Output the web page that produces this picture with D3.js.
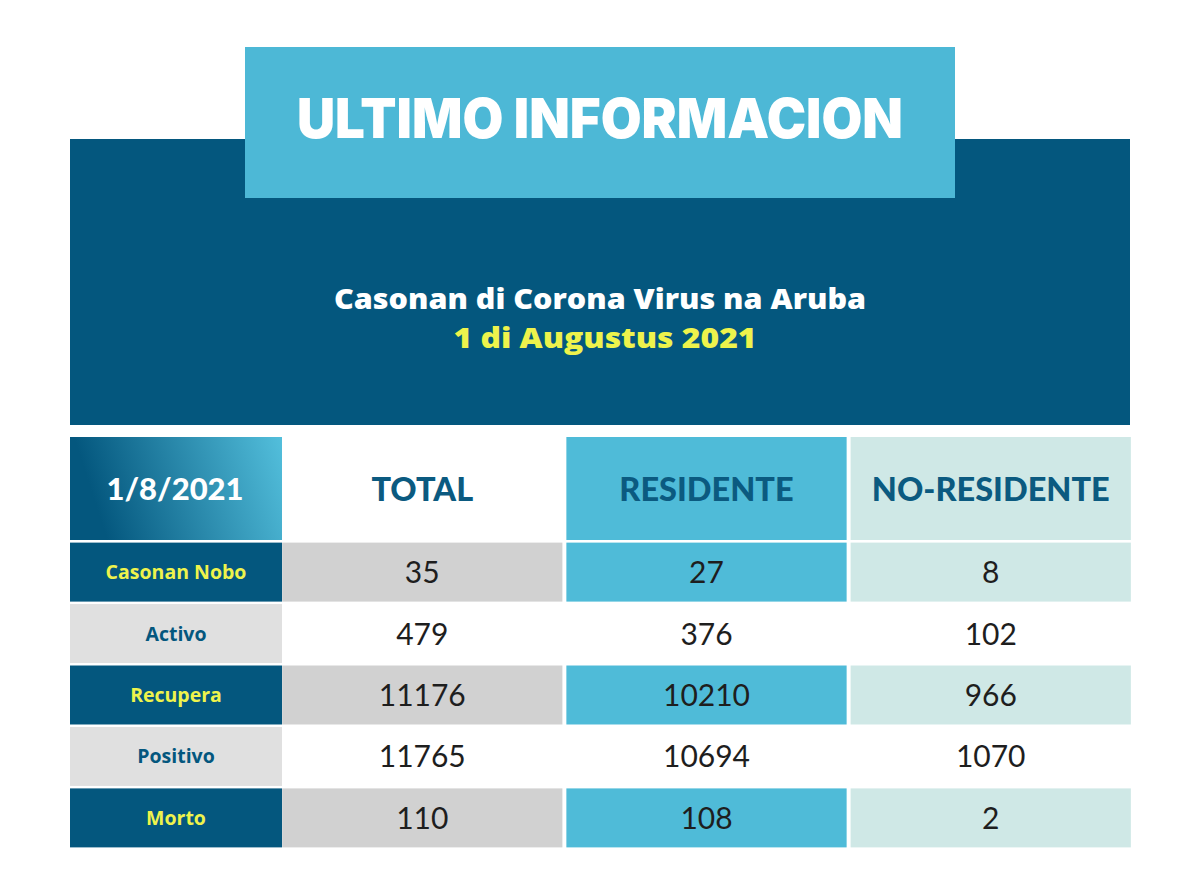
<!DOCTYPE html>
<html>
<head>
<meta charset="utf-8">
<script src="https://cdn.jsdelivr.net/npm/d3@7"></script>
<style>
  body { margin: 0; background: #ffffff; }
  svg { display: block; }
</style>
</head>
<body>
<script>
// data
const title = "ULTIMO INFORMACION";
const subtitle = "Casonan di Corona Virus na Aruba";
const dateLine = "1 di Augustus 2021";
const dateLabel = "1/8/2021";
const columns = ["TOTAL", "RESIDENTE", "NO-RESIDENTE"];
const categories = ["Casonan Nobo", "Activo", "Recupera", "Positivo", "Morto"];
const total = [35, 479, 11176, 11765, 110];
const residente = [27, 376, 10210, 10694, 108];
const noResidente = [8, 102, 966, 1070, 2];

const series = [total, residente, noResidente];

// colours
const darkBlue = "#04577e";
const lightBlue = "#4fbbd8";
const paleGreen = "#cfe8e6";
const yellow = "#eef34c";
const headText = "#0b5a80";

const width = 1200, height = 892;

const svg = d3.select("body").append("svg")
    .attr("width", width)
    .attr("height", height);

const defs = svg.append("defs");
const grad = defs.append("linearGradient")
    .attr("id", "dateGrad")
    .attr("x1", "5%").attr("x2", "100%")
    .attr("y1", "20%").attr("y2", "5%");
grad.append("stop").attr("offset", "0%").attr("stop-color", darkBlue);
grad.append("stop").attr("offset", "100%").attr("stop-color", "#52bedb");

// dark panel + title box
svg.append("rect")
    .attr("x", 70).attr("y", 139)
    .attr("width", 1060).attr("height", 286)
    .attr("fill", darkBlue);

svg.append("rect")
    .attr("x", 245).attr("y", 47)
    .attr("width", 710).attr("height", 151)
    .attr("fill", "#4db8d6");

svg.append("text")
    .text(title)
    .attr("x", 600).attr("y", 138)
    .attr("text-anchor", "middle")
    .attr("textLength", 606)
    .attr("lengthAdjust", "spacingAndGlyphs")
    .style("font-family", "Inter, 'Open Sans', sans-serif")
    .style("font-weight", 900)
    .style("font-size", "55px")
    .style("fill", "#ffffff");

svg.append("text")
    .text(subtitle)
    .attr("x", 600).attr("y", 309)
    .attr("text-anchor", "middle")
    .attr("textLength", 532)
    .attr("lengthAdjust", "spacingAndGlyphs")
    .style("font-family", "'Open Sans', sans-serif")
    .style("font-weight", 800)
    .style("font-size", "27.5px")
    .style("fill", "#ffffff");

svg.append("text")
    .text(dateLine)
    .attr("x", 605).attr("y", 348)
    .attr("text-anchor", "middle")
    .attr("textLength", 303)
    .attr("lengthAdjust", "spacingAndGlyphs")
    .style("font-family", "'Open Sans', sans-serif")
    .style("font-weight", 800)
    .style("font-size", "27.5px")
    .style("fill", yellow);

// scales
const x = d3.scaleBand()
    .domain(columns)
    .range([281, 1132])
    .paddingInner(0.014)
    .paddingOuter(0.004);

const y = d3.scaleBand()
    .domain(categories)
    .range([542, 848])
    .paddingInner(0.04)
    .paddingOuter(0.01);

const labelX0 = 70, labelX1 = 282;
const headY0 = 437, headY1 = 540;

// cell fill by column/row
function cellFill(ci, ri) {
    const odd = ri % 2 === 0;
    if (!odd) return "#ffffff";
    if (ci === 0) return "#d1d1d1";
    if (ci === 1) return lightBlue;
    return paleGreen;
}
function headFill(ci) {
    if (ci === 0) return "#ffffff";
    if (ci === 1) return lightBlue;
    return paleGreen;
}

// header row
svg.append("rect")
    .attr("x", labelX0).attr("y", headY0)
    .attr("width", labelX1 - labelX0).attr("height", headY1 - headY0)
    .attr("fill", "url(#dateGrad)");

svg.append("text")
    .text(dateLabel)
    .attr("x", (labelX0 + labelX1) / 2 - 1).attr("y", (headY0 + headY1) / 2 + 11)
    .attr("text-anchor", "middle")
    .style("font-family", "Lato, sans-serif")
    .style("font-weight", 900)
    .style("font-size", "31px")
    .style("fill", "#ffffff");

const heads = svg.selectAll(".head")
    .data(columns)
    .enter()
    .append("g")
    .attr("class", "head");

heads.append("rect")
    .attr("x", d => x(d))
    .attr("y", headY0)
    .attr("width", x.bandwidth())
    .attr("height", headY1 - headY0)
    .attr("fill", (d, i) => headFill(i));

heads.append("text")
    .text(d => d)
    .attr("x", d => x(d) + x.bandwidth() / 2)
    .attr("y", (headY0 + headY1) / 2 + 12)
    .attr("text-anchor", "middle")
    .style("font-family", "Lato, sans-serif")
    .style("font-weight", 900)
    .style("font-size", "32.5px")
    .style("fill", headText);

// row labels
const rows = svg.selectAll(".row")
    .data(categories)
    .enter()
    .append("g")
    .attr("class", "row");

rows.append("rect")
    .attr("x", labelX0)
    .attr("y", d => y(d))
    .attr("width", labelX1 - labelX0)
    .attr("height", y.bandwidth())
    .attr("fill", (d, i) => i % 2 === 0 ? darkBlue : "#e0e0e0");

rows.append("text")
    .text(d => d)
    .attr("x", (labelX0 + labelX1) / 2)
    .attr("y", d => y(d) + y.bandwidth() / 2 + 7)
    .attr("text-anchor", "middle")
    .style("font-family", "'Open Sans', sans-serif")
    .style("font-weight", 700)
    .style("font-size", "19.5px")
    .style("fill", (d, i) => i % 2 === 0 ? yellow : darkBlue);

// value cells
const cells = [];
series.forEach((vals, ci) => {
    vals.forEach((v, ri) => {
        cells.push({ col: columns[ci], ci: ci, row: categories[ri], ri: ri, value: v });
    });
});

const cellG = svg.selectAll(".cell")
    .data(cells)
    .enter()
    .append("g")
    .attr("class", "cell");

cellG.append("rect")
    .attr("x", d => x(d.col))
    .attr("y", d => y(d.row))
    .attr("width", x.bandwidth())
    .attr("height", y.bandwidth())
    .attr("fill", d => cellFill(d.ci, d.ri));

cellG.append("text")
    .text(d => d.value)
    .attr("x", d => x(d.col) + x.bandwidth() / 2)
    .attr("y", d => y(d.row) + y.bandwidth() / 2 + 11)
    .attr("text-anchor", "middle")
    .style("font-family", "Lato, sans-serif")
    .style("font-weight", 400)
    .style("font-size", "30px")
    .style("fill", "#1e1e1e");
</script>
</body>
</html>
